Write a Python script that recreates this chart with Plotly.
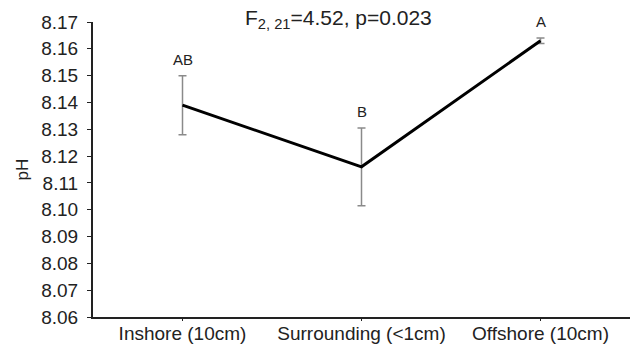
import plotly.graph_objects as go

categories = ["Inshore (10cm)", "Surrounding (<1cm)", "Offshore (10cm)"]
means = [8.139, 8.116, 8.163]
errors = [0.011, 0.0145, 0.001]
letters = ["AB", "B", "A"]
yticks = [8.06, 8.07, 8.08, 8.09, 8.10, 8.11, 8.12, 8.13, 8.14, 8.15, 8.16, 8.17]

font = "Liberation Sans, Arial, sans-serif"

fig = go.Figure()
fig.add_trace(go.Scatter(
    x=[0, 1, 2], y=means, mode="lines",
    line=dict(color="black", width=3),
    error_y=dict(type="data", array=errors, visible=True, color="#8a8a8a", thickness=1.5, width=4),
    showlegend=False, hoverinfo="skip",
))

for i, (m, e, l) in enumerate(zip(means, errors, letters)):
    fig.add_annotation(x=i, y=m + e, xref="x", yref="y", text=l, showarrow=False,
                       yanchor="bottom", yshift=6, font=dict(size=15, color="#222", family=font))

fig.add_annotation(x=0.458, y=1.0, xref="paper", yref="paper", yanchor="middle", yshift=3,
                   text="F<sub>2, 21</sub>=4.52, p=0.023", showarrow=False,
                   font=dict(size=21, color="#222", family=font))

fig.update_layout(
    width=631, height=344,
    margin=dict(l=93, r=1, t=22, b=27),
    paper_bgcolor="white", plot_bgcolor="white",
    font=dict(family=font, color="#222"),
    xaxis=dict(range=[-0.5, 2.5], tickmode="array", tickvals=[0, 1, 2], ticktext=categories,
               showline=True, linecolor="#222", linewidth=2, ticks="outside", ticklen=2,
               tickcolor="#222", showgrid=False, zeroline=False, tickfont=dict(size=19),
               ticklabelstandoff=-4),
    yaxis=dict(range=[8.06, 8.17], tickmode="array", tickvals=yticks,
               ticktext=[f"{v:.2f}" for v in yticks],
               showline=True, linecolor="#222", linewidth=2, ticks="outside", ticklen=4,
               tickcolor="#222", showgrid=False, zeroline=False, tickfont=dict(size=19),
               ticklabelstandoff=5,
               title=dict(text="pH", font=dict(size=17), standoff=8)),
)

fig.write_html("out.html", config={"displayModeBar": False},
               post_script="document.body.style.margin='0';")
